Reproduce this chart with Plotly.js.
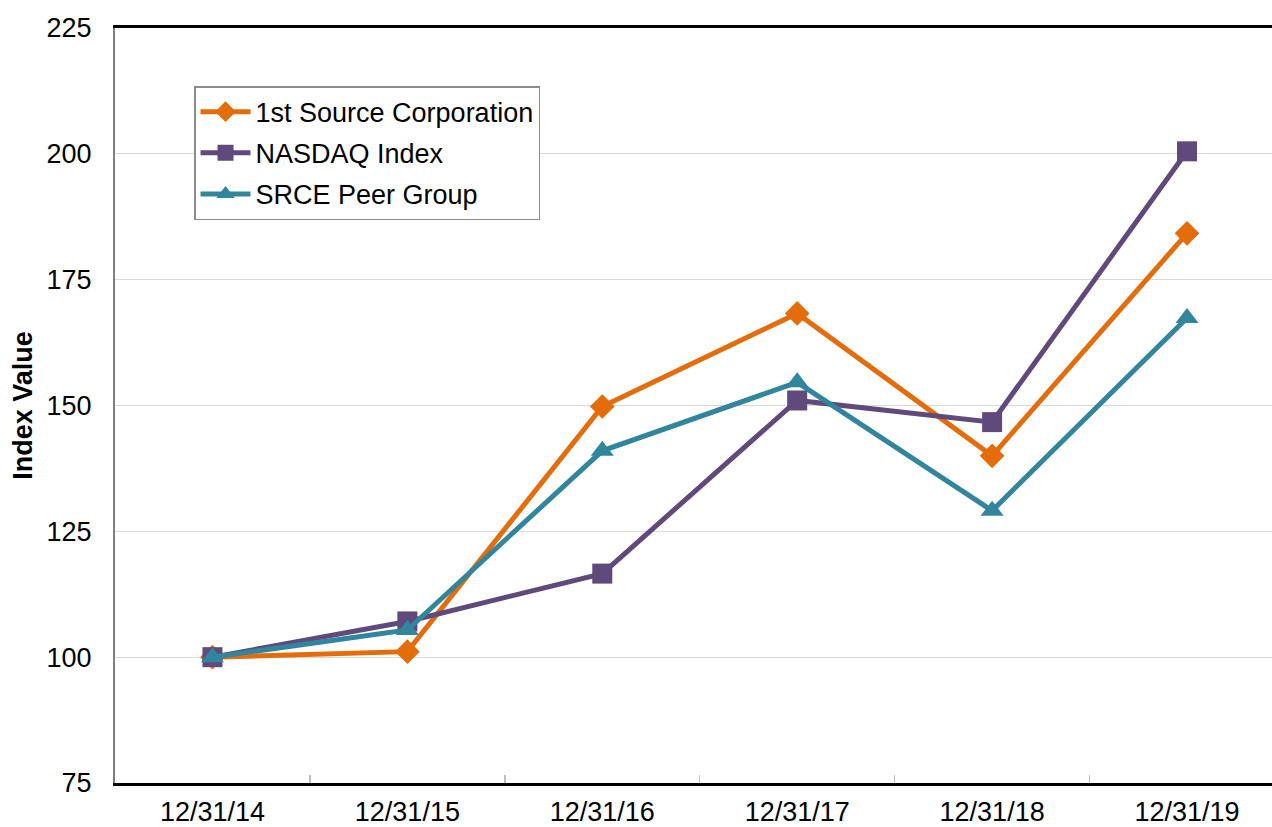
<!DOCTYPE html>
<html>
<head>
<meta charset="utf-8">
<script src="https://cdn.plot.ly/plotly-3.0.1.min.js"></script>
<style>
html,body{margin:0;padding:0;background:#fff;}
#chart{width:1272px;height:827px;}
</style>
</head>
<body>
<div id="chart"></div>
<script>
const categories = ["12/31/14", "12/31/15", "12/31/16", "12/31/17", "12/31/18", "12/31/19"];
const firstSource = [100, 101.1, 149.8, 168.3, 140.0, 184.2];
const nasdaq = [100, 107.1, 116.6, 151.0, 146.7, 200.5];
const peerGroup = [100, 105.4, 141.0, 154.6, 129.1, 167.4];
const seriesNames = ["1st Source Corporation", "NASDAQ Index", "SRCE Peer Group"];
const yTicks = [75, 100, 125, 150, 175, 200, 225];

const FONT = "Liberation Sans, Arial, Helvetica, sans-serif";

const traces = [
  {
    x: categories, y: firstSource, name: seriesNames[0], type: "scatter", mode: "lines+markers",
    legendgroup: "g1",
    line: {color: "#E46C0A", width: 5},
    marker: {symbol: "diamond", size: 19, color: "#E46C0A"}
  },
  {
    x: categories, y: nasdaq, name: seriesNames[1], type: "scatter", mode: "lines+markers",
    legendgroup: "g2",
    line: {color: "#604A7B", width: 5},
    marker: {symbol: "square", size: 20, color: "#604A7B"}
  },
  {
    x: categories, y: peerGroup, name: seriesNames[2], type: "scatter", mode: "lines+markers",
    legendgroup: "g3",
    line: {color: "#31859C", width: 5},
    marker: {symbol: "triangle-up", size: 20, color: "#31859C"}
  }
];

const layout = {
  width: 1272, height: 827,
  margin: {l: 115, r: 0, t: 28, b: 44, pad: 0},
  paper_bgcolor: "#ffffff",
  plot_bgcolor: "#ffffff",
  font: {family: FONT, size: 27, color: "#000"},
  showlegend: true,
  legend: {
    x: 0.0683, y: 0.923, xanchor: "left", yanchor: "top",
    bgcolor: "#ffffff", bordercolor: "#8c8c8c", borderwidth: 1.5,
    font: {family: FONT, size: 27, color: "#000"},
    traceorder: "grouped",
    tracegroupgap: 3,
    itemwidth: 50
  },
  xaxis: {
    type: "category",
    range: [-0.5, 5.436],
    showgrid: false,
    zeroline: false,
    showline: true, linecolor: "#000", linewidth: 3, mirror: true,
    ticks: "inside", tickson: "boundaries", ticklen: 8, tickcolor: "#bfbfbf", tickwidth: 1.5,
    ticklabelstandoff: 3,
    tickfont: {family: FONT, size: 27, color: "#000"},
    automargin: false,
    fixedrange: true
  },
  yaxis: {
    range: [75, 225],
    tickvals: yTicks,
    ticktext: yTicks.map(String),
    showgrid: true, gridcolor: "#d9d9d9", gridwidth: 1,
    zeroline: false,
    showline: true, linecolor: "#7f7f7f", linewidth: 2,
    ticks: "", ticklabelstandoff: 16,
    tickfont: {family: FONT, size: 27, color: "#000"},
    title: {text: "Index Value", font: {family: FONT, size: 27, color: "#000", weight: "bold"}, standoff: 6},
    automargin: false,
    fixedrange: true
  }
};

Plotly.newPlot("chart", traces, layout, {displayModeBar: false, staticPlot: true});
</script>
</body>
</html>
